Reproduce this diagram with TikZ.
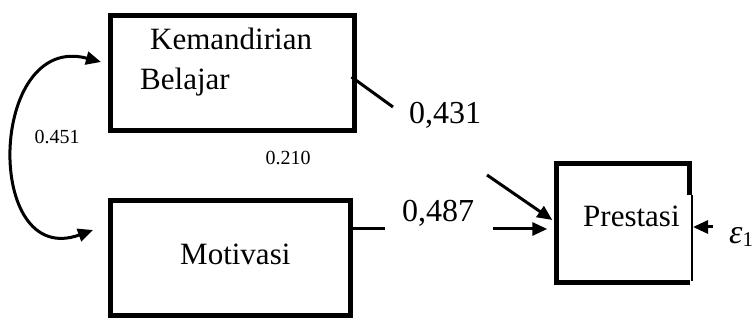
\documentclass[tikz,border=0pt]{standalone}
\usepackage{fontspec}
\setmainfont{Liberation Serif}
\usetikzlibrary{arrows.meta,calc}
\tikzset{
  boxline/.style={line width=5pt, line join=miter},
  boxnode/.style={rectangle, boxline, draw, inner sep=0pt},
  conn/.style={line width=3pt},
  tip/.style={-{Triangle[length=15pt,width=13pt]}},
  bigtxt/.style={font=\fontsize{31}{37}\selectfont, inner sep=0pt, anchor=base west},
  coef/.style={font=\fontsize{32}{38}\selectfont, inner sep=0pt},
  smallcoef/.style={font=\fontsize{20}{24}\selectfont, inner sep=0pt}
}
\begin{document}
\begin{tikzpicture}[x=1pt,y=-1pt]
\useasboundingbox (0,0) rectangle (756,320);
% boxes
\node[boxnode, minimum width=244pt, minimum height=115pt] (kem) at (232.5,73) {};
\node[boxnode, minimum width=240pt, minimum height=115pt] (mot) at (230.5,258) {};
\node[rectangle, inner sep=0pt, minimum width=133pt, minimum height=119pt] (pre) at (623,223) {};
\draw[boxline] ([yshift=-32pt]pre.north east) -- (pre.north east) -- (pre.north west) -- (pre.south west) -- (pre.south east);
\draw[line width=1.6pt] ([xshift=2pt,yshift=-32pt]pre.north east) -- ([xshift=2pt,yshift=2pt]pre.south east);
% box texts
\node[bigtxt] (kemt1) at (150,50) {Kemandirian};
\node[bigtxt] (kemt2) at (140,90) {Belajar};
\node[bigtxt] (mott) at (180,265) {Motivasi};
\node[bigtxt] (pret) at (583,227) {Prestasi};
% correlation arc
\coordinate (kemin) at ($(kem.west)+(-7,-11)$);
\coordinate (motin) at ($(mot.west)+(-15,-28)$);
\draw[conn, {Triangle[length=15pt,width=13pt]}-{Triangle[length=15pt,width=13pt]}]
  (kemin) .. controls +(195:117) and +(160:117) .. (motin);
\node[smallcoef] (c451) at (57,137) {0.451};
\node[smallcoef] (c210) at (288,158) {0.210};
% path Kemandirian -> Prestasi
\coordinate (k1) at ($(kem.east)+(-5.5,4)$);
\coordinate (k2) at (393,107);
\coordinate (p1) at (487,175);
\draw[conn, line cap=butt] (k1) -- (k2);
\draw[conn, tip] (p1) -- ($(pre.west)+(-4,-3)$);
\node[coef] (c431) at (445,115) {0,431};
% path Motivasi -> Prestasi
\coordinate (m1) at ($(mot.east)+(0,-29)$);
\coordinate (m2) at (385,229);
\coordinate (m3) at (493,229);
\draw[conn] (m1) -- (m2);
\draw[conn, tip] (m3) -- ($(pre.west)+(-9,6)$);
\node[coef] (c487) at (438,213) {0,487};
% error term
\node[inner sep=0pt, anchor=base west, font=\fontsize{34}{40}\selectfont] (eps) at (729,244) {\itshape ε\upshape\raisebox{-3pt}{\fontsize{21}{24}\selectfont 1}};
\coordinate (e1) at (713,227);
\draw[conn, tip] (e1) -- (693,227);
\end{tikzpicture}
\end{document}
